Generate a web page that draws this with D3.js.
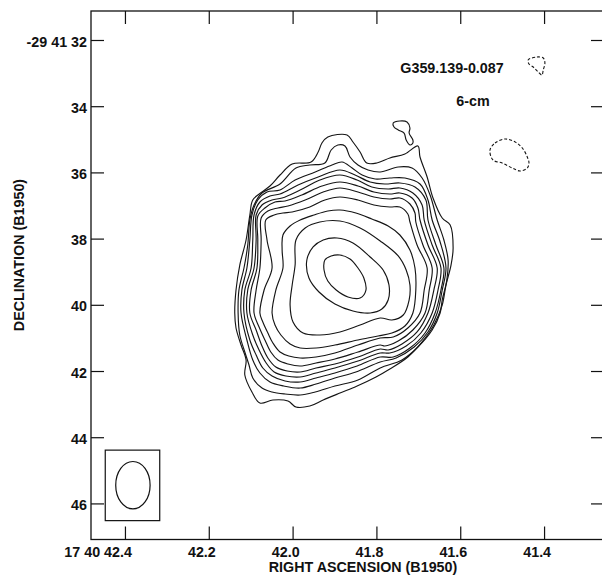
<!DOCTYPE html>
<html>
<head>
<meta charset="utf-8">
<script src="https://cdn.jsdelivr.net/npm/d3@7"></script>
<style>
  body { margin: 0; background: #fff; }
  svg { display: block; }
  text { font-family: "Liberation Sans", Arial, sans-serif; font-weight: bold; font-size: 14.3px; fill: #111; }
</style>
</head>
<body>
<div id="vis"></div>
<script>
// ejes: segundos de AR (17h40m) y segundos de arco de Dec (-29 41)
const raTicks = [42.4, 42.2, 42.0, 41.8, 41.6, 41.4];
const raLabels = ["17 40 42.4", "42.2", "42.0", "41.8", "41.6", "41.4"];
const decTicks = [32, 34, 36, 38, 40, 42, 44, 46];
const decLabels = ["-29 41 32", "34", "36", "38", "40", "42", "44", "46"];
const raDomain = [42.481, 41.257];
const decDomain = [31.124, 47.09];

// contornos positivos, de afuera hacia adentro, puntos [AR, Dec]
const contour01 = [[42.095,36.834],[42.073,36.592],[42.054,36.411],[42.030,36.079],[42.001,35.746],[41.956,35.686],[41.939,35.384],[41.930,35.112],[41.916,34.930],[41.870,34.870],[41.856,35.081],[41.839,35.384],[41.823,35.716],[41.799,35.716],[41.768,35.565],[41.732,35.444],[41.701,35.202],[41.696,35.534],[41.679,36.139],[41.665,36.773],[41.643,37.378],[41.624,37.589],[41.617,38.284],[41.622,38.798],[41.634,39.402],[41.643,40.006],[41.663,40.610],[41.691,41.123],[41.725,41.577],[41.768,41.940],[41.801,42.181],[41.846,42.453],[41.887,42.665],[41.927,42.876],[41.959,43.057],[41.992,43.087],[42.011,42.906],[42.047,42.876],[42.078,42.967],[42.097,42.634],[42.114,42.121],[42.111,41.668],[42.123,41.215],[42.135,40.701],[42.138,40.248],[42.135,39.553],[42.126,38.798],[42.111,38.042],[42.102,37.287]];
const contour02 = [[42.102,37.438],[42.092,36.985],[42.073,36.623],[42.030,36.351],[41.992,35.867],[41.959,35.776],[41.923,35.716],[41.908,35.323],[41.892,35.172],[41.875,35.202],[41.863,35.534],[41.844,35.776],[41.820,35.927],[41.791,35.988],[41.748,35.836],[41.715,35.867],[41.691,36.169],[41.672,36.683],[41.655,37.438],[41.639,38.042],[41.629,38.646],[41.632,39.251],[41.643,39.855],[41.648,40.248],[41.667,40.761],[41.701,41.275],[41.739,41.668],[41.791,41.909],[41.844,42.272],[41.899,42.453],[41.946,42.634],[41.982,42.725],[42.018,42.695],[42.049,42.634],[42.073,42.514],[42.095,42.211],[42.104,41.819],[42.114,41.426],[42.126,40.912],[42.130,40.248],[42.128,39.553],[42.116,38.888],[42.107,38.193]];
const contour03 = [[42.097,37.287],[42.083,36.834],[42.061,36.592],[42.030,36.532],[41.994,36.230],[41.946,35.988],[41.906,35.776],[41.882,35.686],[41.858,35.867],[41.834,36.079],[41.803,36.199],[41.768,36.169],[41.732,36.169],[41.696,36.351],[41.677,36.834],[41.667,37.438],[41.648,38.102],[41.634,38.888],[41.643,39.553],[41.655,40.248],[41.677,40.821],[41.710,41.275],[41.753,41.607],[41.791,41.728],[41.849,42.030],[41.899,42.211],[41.944,42.393],[41.982,42.514],[42.021,42.453],[42.054,42.332],[42.078,42.060],[42.095,41.668],[42.109,41.063],[42.123,40.248],[42.121,39.553],[42.109,38.888],[42.102,38.042]];
const contour04 = [[42.092,37.287],[42.078,36.894],[42.054,36.713],[42.030,36.653],[41.987,36.381],[41.939,36.139],[41.887,35.927],[41.851,36.079],[41.815,36.290],[41.780,36.351],[41.744,36.320],[41.708,36.441],[41.682,36.834],[41.677,37.438],[41.658,38.193],[41.639,38.888],[41.646,39.553],[41.660,40.248],[41.684,40.852],[41.720,41.305],[41.760,41.577],[41.791,41.577],[41.846,41.849],[41.899,42.060],[41.944,42.211],[41.982,42.332],[42.018,42.302],[42.049,42.151],[42.071,41.909],[42.087,41.517],[42.102,41.063],[42.116,40.248],[42.114,39.553],[42.099,38.888],[42.095,38.042]];
const contour05 = [[42.087,37.287],[42.073,36.985],[42.049,36.834],[42.025,36.773],[41.982,36.532],[41.935,36.230],[41.887,36.079],[41.846,36.230],[41.811,36.441],[41.772,36.502],[41.744,36.471],[41.713,36.623],[41.691,36.985],[41.686,37.438],[41.667,38.193],[41.646,38.888],[41.653,39.553],[41.667,40.248],[41.694,40.852],[41.729,41.245],[41.768,41.456],[41.791,41.456],[41.844,41.698],[41.899,41.909],[41.944,42.060],[41.982,42.181],[42.016,42.151],[42.044,42.030],[42.063,41.758],[42.080,41.365],[42.095,40.912],[42.109,40.248],[42.107,39.553],[42.092,38.888],[42.087,38.042]];
const contour06 = [[42.083,37.317],[42.066,37.075],[42.042,36.894],[42.018,36.864],[41.978,36.683],[41.930,36.411],[41.887,36.290],[41.844,36.411],[41.806,36.592],[41.768,36.653],[41.744,36.623],[41.715,36.773],[41.701,37.075],[41.696,37.438],[41.677,38.193],[41.655,38.888],[41.663,39.553],[41.677,40.248],[41.703,40.821],[41.739,41.184],[41.772,41.365],[41.791,41.335],[41.844,41.577],[41.899,41.788],[41.944,41.909],[41.982,42.030],[42.013,42.000],[42.040,41.879],[42.059,41.607],[42.073,41.245],[42.087,40.761],[42.102,40.248],[42.099,39.553],[42.085,38.888],[42.083,38.042]];
const contour07 = [[42.075,37.378],[42.059,37.166],[42.035,37.075],[42.011,37.015],[41.970,36.834],[41.927,36.592],[41.887,36.471],[41.844,36.592],[41.806,36.743],[41.768,36.804],[41.744,36.773],[41.720,36.955],[41.708,37.227],[41.706,37.498],[41.689,38.193],[41.667,38.888],[41.674,39.553],[41.684,40.248],[41.713,40.761],[41.748,41.094],[41.780,41.245],[41.791,41.215],[41.844,41.426],[41.899,41.638],[41.944,41.758],[41.982,41.849],[42.011,41.788],[42.035,41.668],[42.052,41.426],[42.066,41.063],[42.080,40.670],[42.092,40.248],[42.087,39.553],[42.078,38.888],[42.075,38.042]];
const contour08 = [[42.064,37.438],[42.044,37.287],[42.023,37.227],[42.001,37.196],[41.959,37.045],[41.923,36.834],[41.887,36.743],[41.844,36.834],[41.806,36.985],[41.768,37.045],[41.744,37.045],[41.725,37.257],[41.720,37.498],[41.703,38.193],[41.679,38.888],[41.686,39.553],[41.696,40.248],[41.725,40.700],[41.760,40.973],[41.791,41.003],[41.844,41.215],[41.899,41.456],[41.944,41.577],[41.982,41.607],[42.009,41.547],[42.030,41.426],[42.047,41.154],[42.059,40.852],[42.071,40.519],[42.078,40.248],[42.068,39.553],[42.049,38.888],[42.061,38.042]];
const contour09 = [[42.023,37.891],[42.006,37.619],[41.982,37.438],[41.949,37.287],[41.916,37.166],[41.887,37.136],[41.849,37.227],[41.811,37.408],[41.772,37.619],[41.744,37.891],[41.720,38.344],[41.708,38.888],[41.706,39.553],[41.713,40.248],[41.732,40.640],[41.763,40.852],[41.796,40.942],[41.844,41.063],[41.899,41.215],[41.944,41.305],[41.982,41.305],[42.006,41.184],[42.028,40.912],[42.042,40.610],[42.049,40.248],[42.040,39.553],[42.023,38.888],[42.025,38.344]];
const contour10 = [[41.992,38.042],[41.970,37.680],[41.935,37.498],[41.887,37.468],[41.839,37.680],[41.791,38.072],[41.748,38.525],[41.729,38.949],[41.720,39.402],[41.722,39.855],[41.736,40.308],[41.763,40.459],[41.791,40.398],[41.839,40.610],[41.887,40.821],[41.935,40.912],[41.975,40.852],[41.999,40.519],[42.006,40.006],[42.001,39.402],[41.994,38.798]];
const contour11 = [[41.966,38.646],[41.951,38.253],[41.927,38.042],[41.894,37.982],[41.856,38.133],[41.815,38.555],[41.784,38.949],[41.770,39.402],[41.772,39.855],[41.787,40.127],[41.815,40.248],[41.856,40.187],[41.899,39.976],[41.937,39.613],[41.961,39.190]];
const contour12 = [[41.923,38.646],[41.908,38.525],[41.887,38.495],[41.863,38.616],[41.844,38.888],[41.830,39.190],[41.825,39.553],[41.839,39.795],[41.868,39.764],[41.896,39.553],[41.916,39.281],[41.925,38.949]];
const knot = [[41.760,34.508],[41.744,34.447],[41.727,34.477],[41.720,34.659],[41.722,34.810],[41.713,35.021],[41.713,35.112],[41.720,35.172],[41.729,35.021],[41.734,34.810],[41.748,34.719],[41.758,34.629]];

// contornos negativos (trazo cortado)
const negative01 = [[41.438,32.604],[41.417,32.513],[41.402,32.544],[41.398,32.695],[41.402,32.906],[41.405,33.057],[41.414,32.967],[41.426,32.816],[41.436,32.725]];
const negative02 = [[41.529,35.323],[41.517,35.112],[41.493,34.991],[41.469,35.081],[41.452,35.263],[41.440,35.534],[41.436,35.716],[41.440,35.867],[41.457,35.958],[41.476,35.867],[41.500,35.716],[41.522,35.625]];

// haz: caja, centro y semiejes (s de AR, " de Dec)
const beamBoxRa = [42.447, 42.317];
const beamBoxDec = [44.39, 46.52];
const beamCenter = [42.381, 45.45];
const beamAxes = [0.041, 0.716];

const sourceName = "G359.139-0.087";
const bandName = "6-cm";

const WIDTH = 602, HEIGHT = 575;
const frame = { left: 91, right: 604, top: 11, bottom: 539.5 };

const svg = d3.select("#vis").append("svg").attr("width", WIDTH).attr("height", HEIGHT);

const x = d3.scaleLinear().domain(raDomain).range([frame.left, frame.right]);
const y = d3.scaleLinear().domain(decDomain).range([frame.top, frame.bottom]);

const linea = d3.line()
  .x((d) => x(d[0]))
  .y((d) => y(d[1]))
  .curve(d3.curveCatmullRomClosed.alpha(0.5));

const positivos = [contour01, contour02, contour03, contour04, contour05, contour06,
  contour07, contour08, contour09, contour10, contour11, contour12, knot];

svg.append("g")
  .selectAll("path")
  .data(positivos)
  .join("path")
  .attr("d", linea)
  .attr("fill", "none")
  .attr("stroke", "#151515")
  .attr("stroke-width", 1.15);

svg.append("g")
  .selectAll("path")
  .data([negative01, negative02])
  .join("path")
  .attr("d", linea)
  .attr("fill", "none")
  .attr("stroke", "#151515")
  .attr("stroke-width", 1.1)
  .attr("stroke-dasharray", "3,2");

// marco
svg.append("rect")
  .attr("x", frame.left).attr("y", frame.top)
  .attr("width", frame.right - frame.left).attr("height", frame.bottom - frame.top)
  .attr("fill", "none").attr("stroke", "#111").attr("stroke-width", 1.3);

// ejes con ticks hacia adentro
const ejeX = svg.append("g")
  .attr("transform", `translate(0,${frame.bottom})`)
  .call(d3.axisBottom(x).tickValues(raTicks).tickFormat((d, i) => raLabels[i])
    .tickSize(-13).tickSizeOuter(0).tickPadding(7));
ejeX.selectAll("text").attr("text-anchor", "end").attr("x", 6.5);

svg.append("g")
  .attr("transform", `translate(0,${frame.top})`)
  .call(d3.axisTop(x).tickValues(raTicks).tickFormat("").tickSize(-13).tickSizeOuter(0));

const ejeY = svg.append("g")
  .attr("transform", `translate(${frame.left},0)`)
  .call(d3.axisLeft(y).tickValues(decTicks).tickFormat((d, i) => decLabels[i])
    .tickSize(-13).tickSizeOuter(0).tickPadding(4));
ejeY.selectAll("text").attr("dy", "0.42em");

svg.append("g")
  .attr("transform", `translate(${frame.right},0)`)
  .call(d3.axisRight(y).tickValues(decTicks).tickFormat("").tickSize(-13).tickSizeOuter(0));

svg.selectAll(".domain").remove();
svg.selectAll(".tick line").attr("stroke", "#111").attr("stroke-width", 1.2);
svg.selectAll(".tick text").attr("font-family", null).attr("font-size", null).attr("fill", "#111");

// títulos de ejes
svg.append("text")
  .attr("x", 363).attr("y", 572)
  .attr("text-anchor", "middle")
  .text("RIGHT ASCENSION (B1950)");

svg.append("text")
  .attr("transform", "translate(24,255) rotate(-90)")
  .attr("text-anchor", "middle")
  .text("DECLINATION (B1950)");

// rótulos
svg.append("text").attr("x", 452).attr("y", 73).attr("text-anchor", "middle").text(sourceName);
svg.append("text").attr("x", 473).attr("y", 106).attr("text-anchor", "middle").text(bandName);

// haz
svg.append("rect")
  .attr("x", x(beamBoxRa[0])).attr("y", y(beamBoxDec[0]))
  .attr("width", x(beamBoxRa[1]) - x(beamBoxRa[0]))
  .attr("height", y(beamBoxDec[1]) - y(beamBoxDec[0]))
  .attr("fill", "none").attr("stroke", "#111").attr("stroke-width", 1.2);

svg.append("ellipse")
  .attr("cx", x(beamCenter[0])).attr("cy", y(beamCenter[1]))
  .attr("rx", Math.abs(x(beamCenter[0] - beamAxes[0]) - x(beamCenter[0])))
  .attr("ry", Math.abs(y(beamCenter[1] + beamAxes[1]) - y(beamCenter[1])))
  .attr("fill", "none").attr("stroke", "#111").attr("stroke-width", 1.2);
</script>
</body>
</html>
